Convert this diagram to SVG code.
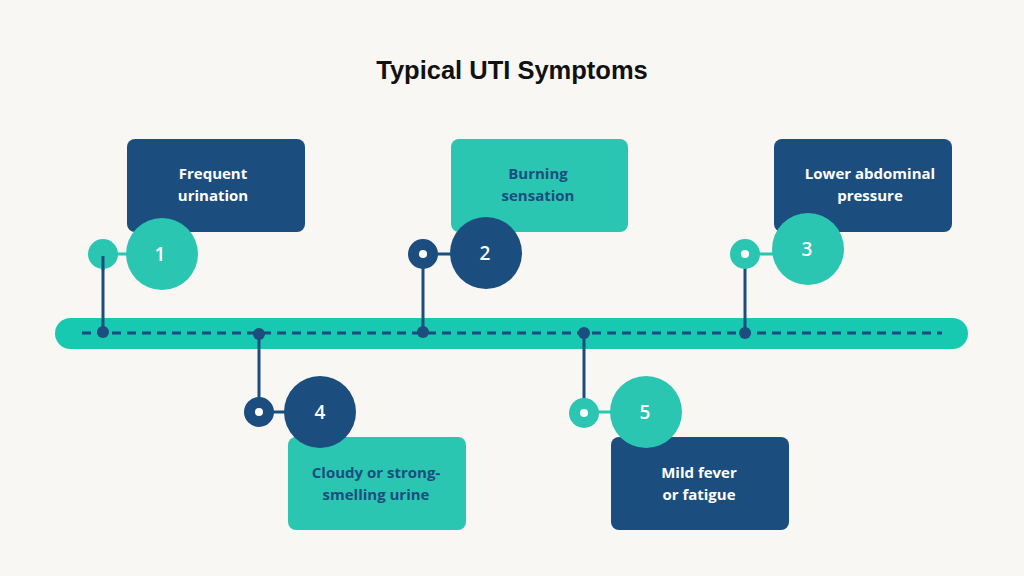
<svg xmlns="http://www.w3.org/2000/svg" width="1024" height="576" viewBox="0 0 1024 576">
<style>
.dk{fill:#1B4D7E}.tl{fill:#2BC6B2}
.ln{stroke:#1B4D7E;stroke-width:3}
.t{font-family:"Open Sans","Liberation Sans",sans-serif;font-weight:700;font-size:15px;text-anchor:middle}
.tw{fill:#fff}.tb{fill:#1B4D7E}
.n{font-family:"Open Sans","Liberation Sans",sans-serif;font-weight:600;font-size:19px;fill:#fff;text-anchor:middle}
</style>
<rect width="1024" height="576" fill="#F8F7F4"/>
<text x="512" y="79" font-family="Liberation Sans,Arial,sans-serif" font-weight="700" font-size="25.5" text-anchor="middle" fill="#111">Typical UTI Symptoms</text>
<rect x="55" y="318" width="913" height="31" rx="15.5" fill="#17C9B0"/>
<line x1="82" y1="333" x2="942" y2="333" stroke="#1B4D7E" stroke-width="3" stroke-dasharray="9,6"/>
<g id="connectors">
<line class="ln" x1="103" y1="256" x2="103" y2="332"/><circle class="dk" cx="103" cy="332" r="6"/>
<line class="ln" x1="423" y1="256" x2="423" y2="332"/><circle class="dk" cx="423" cy="332" r="6"/>
<line class="ln" x1="745" y1="256" x2="745" y2="333"/><circle class="dk" cx="745" cy="333" r="6"/>
<line class="ln" x1="259" y1="334" x2="259" y2="412"/><circle class="dk" cx="259" cy="334" r="6"/>
<line class="ln" x1="584" y1="333" x2="584" y2="412"/><circle class="dk" cx="584" cy="333" r="6"/>
</g>
<g id="n1">
<rect class="dk" x="127" y="139" width="178" height="93" rx="8"/>
<text class="t tw" x="213" y="179">Frequent</text><text class="t tw" x="213" y="201">urination</text>
<line x1="103" y1="254" x2="162" y2="254" stroke="#2BC6B2" stroke-width="3"/>
<circle class="tl" cx="103" cy="254" r="15"/>
<line class="ln" x1="103" y1="256" x2="103" y2="270"/>
<circle class="tl" cx="162" cy="254" r="36"/>
<text class="n" x="160" y="261">1</text>
</g>
<g id="n2">
<rect class="tl" x="451" y="139" width="177" height="93" rx="8"/>
<text class="t tb" x="538" y="179">Burning</text><text class="t tb" x="538" y="201">sensation</text>
<line class="ln" x1="423" y1="254" x2="486" y2="254"/>
<circle class="dk" cx="423" cy="254" r="15"/><circle cx="423" cy="254" r="4" fill="#fff"/>
<circle class="dk" cx="486" cy="253" r="36"/>
<text class="n" x="485" y="260">2</text>
</g>
<g id="n3">
<rect class="dk" x="774" y="139" width="178" height="93" rx="8"/>
<text class="t tw" x="870" y="179">Lower abdominal</text><text class="t tw" x="870" y="201">pressure</text>
<line x1="745" y1="254" x2="808" y2="254" stroke="#2BC6B2" stroke-width="3"/>
<circle class="tl" cx="745" cy="254" r="15"/><circle cx="745" cy="254" r="4" fill="#fff"/>
<circle class="tl" cx="808" cy="249" r="36"/>
<text class="n" x="807" y="256">3</text>
</g>
<g id="n4">
<line class="ln" x1="259" y1="412" x2="320" y2="412"/>
<circle class="dk" cx="259" cy="412" r="15"/><circle cx="259" cy="412" r="4" fill="#fff"/>
<rect class="tl" x="288" y="437" width="178" height="93" rx="8"/>
<circle class="dk" cx="320" cy="412" r="36"/>
<text class="n" x="320" y="419">4</text>
<text class="t tb" x="376" y="478">Cloudy or strong-</text><text class="t tb" x="376" y="500">smelling urine</text>
</g>
<g id="n5">
<line x1="584" y1="412" x2="646" y2="412" stroke="#2BC6B2" stroke-width="3"/>
<circle class="tl" cx="584" cy="413" r="15"/><circle cx="584" cy="413" r="4" fill="#fff"/>
<rect class="dk" x="611" y="437" width="178" height="93" rx="8"/>
<circle class="tl" cx="646" cy="412" r="36"/>
<text class="n" x="645" y="419">5</text>
<text class="t tw" x="699" y="478">Mild fever</text><text class="t tw" x="699" y="500">or fatigue</text>
</g>
</svg>
